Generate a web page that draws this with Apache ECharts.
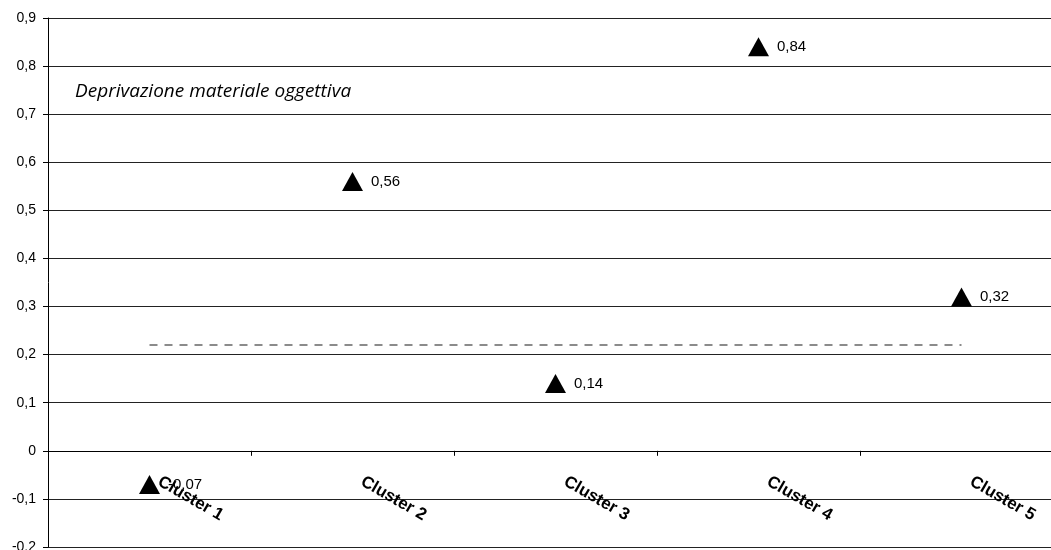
<!DOCTYPE html>
<html>
<head>
<meta charset="utf-8">
<script src="https://cdn.jsdelivr.net/npm/echarts@6/dist/echarts.min.js"></script>
<style>
  html, body { margin: 0; padding: 0; background: #fff; }
  #chart { width: 1051px; height: 550px; }
</style>
</head>
<body>
<div id="chart"></div>
<script>
// Cluster categories and their index values
const categories = ['Cluster 1', 'Cluster 2', 'Cluster 3', 'Cluster 4', 'Cluster 5'];
const clusterValues = [-0.07, 0.56, 0.14, 0.84, 0.32];
// Overall average reference level (dashed line)
const averageValues = [0.22, 0.22, 0.22, 0.22, 0.22];
const seriesTitle = 'Deprivazione materiale oggettiva';

const comma = (v, d) => (Math.round(v * Math.pow(10, d)) / Math.pow(10, d)).toString().replace('.', ',');

const chart = echarts.init(document.getElementById('chart'), null, { renderer: 'canvas' });
chart.setOption({
  animation: false,
  backgroundColor: '#fff',
  title: {
    text: seriesTitle,
    left: 75,
    top: 82,
    padding: 0,
    textStyle: {
      fontFamily: 'Open Sans',
      fontStyle: 'italic',
      fontWeight: 'normal',
      fontSize: 19,
      lineHeight: 19,
      color: '#000'
    }
  },
  grid: { left: 48, right: -12, top: 18, bottom: 3, containLabel: false, outerBoundsMode: 'none' },
  xAxis: {
    type: 'category',
    data: categories,
    position: 'bottom',
    boundaryGap: true,
    axisLine: { onZero: false, lineStyle: { color: '#000', width: 1 } },
    axisTick: { show: true, length: 5, lineStyle: { color: '#000' } },
    axisLabel: {
      rotate: -30,
      margin: 24,
      padding: [0, 0, 0, 11],
      fontFamily: 'Liberation Sans, Arial',
      fontWeight: 'bold',
      fontSize: 17,
      color: '#000'
    },
    splitLine: { show: false }
  },
  yAxis: {
    type: 'value',
    min: -0.2,
    max: 0.9,
    interval: 0.1,
    axisLine: { show: true, lineStyle: { color: '#000', width: 1 } },
    axisTick: { show: true, length: 5, lineStyle: { color: '#000' } },
    axisLabel: {
      margin: 12,
      fontFamily: 'Liberation Sans, Arial',
      fontSize: 14,
      color: '#000',
      formatter: v => comma(v, 1)
    },
    splitLine: { show: true, lineStyle: { color: '#222', width: 1 } }
  },
  series: [
    {
      name: 'media',
      type: 'line',
      data: averageValues,
      symbol: 'none',
      lineStyle: { color: '#666', width: 1.5, type: [8, 7] },
      z: 2
    },
    {
      name: seriesTitle,
      type: 'line',
      data: clusterValues,
      lineStyle: { width: 0, opacity: 0 },
      symbol: 'triangle',
      symbolSize: [21, 19],
      itemStyle: { color: '#000' },
      label: {
        show: true,
        position: 'right',
        distance: 8,
        fontFamily: 'Liberation Sans, Arial',
        fontSize: 15,
        color: '#000',
        formatter: p => comma(p.value, 2)
      },
      z: 3
    }
  ]
});

// Lift the category axis (line, ticks and labels) up to the zero level
const yZero = chart.convertToPixel({ yAxisIndex: 0 }, 0);
const yMin = chart.convertToPixel({ yAxisIndex: 0 }, -0.2);
chart.setOption({ xAxis: { offset: -(yMin - yZero) } });
</script>
</body>
</html>
